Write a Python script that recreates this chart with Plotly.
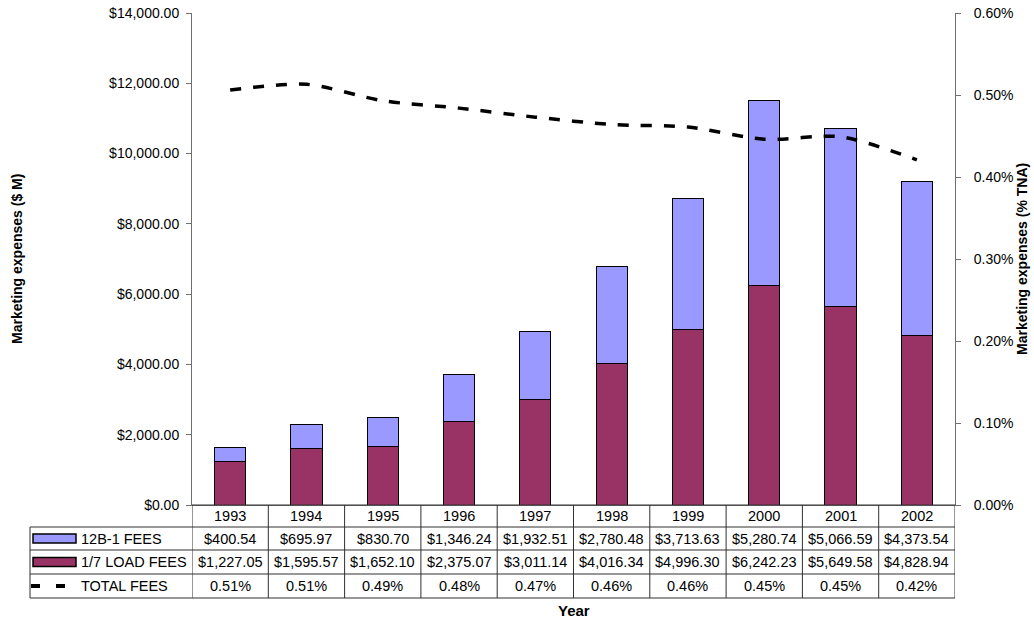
import plotly.graph_objects as go

# Mutual fund marketing expenses, 1993-2002
years = ["1993", "1994", "1995", "1996", "1997", "1998", "1999", "2000", "2001", "2002"]
fees_12b1 = [400.54, 695.97, 830.70, 1346.24, 1932.51, 2780.48, 3713.63, 5280.74, 5066.59, 4373.54]
load_fees = [1227.05, 1595.57, 1652.10, 2375.07, 3011.14, 4016.34, 4996.30, 6242.23, 5649.58, 4828.94]
total_pct = [0.00506, 0.00513, 0.00493, 0.00484, 0.00473, 0.00464, 0.00461, 0.00446, 0.00449, 0.00421]

row_names = ["12B-1 FEES", "1/7 LOAD FEES", "TOTAL FEES"]

BLUE = "#9999FF"
MAROON = "#993366"
FONT = "Liberation Sans, Arial, sans-serif"

# plot-area geometry in pixels
W, H = 1034, 621
L, R, T, B = 192, 955, 13, 505
PW, PH = R - L, B - T


def px(x):
    return (x - L) / PW


def py(y):
    return (B - y) / PH


fig = go.Figure()

fig.add_trace(go.Bar(
    x=years, y=load_fees, name=row_names[1],
    marker=dict(color=MAROON, line=dict(color="black", width=1)),
))
fig.add_trace(go.Bar(
    x=years, y=fees_12b1, name=row_names[0],
    marker=dict(color=BLUE, line=dict(color="black", width=1)),
))
fig.add_trace(go.Scatter(
    x=years, y=total_pct, name=row_names[2], yaxis="y2", mode="lines",
    line=dict(color="black", width=3.5, dash="11px,12px", shape="spline", smoothing=0.8),
))

shapes = []
annotations = []

# table rows (pixel y bounds)
row_y = [505, 527, 550, 574, 598]
x_left = 30
line_col = "#303030"

# horizontal grid lines of the data table
for i, yy in enumerate(row_y):
    x0 = L if i == 0 else x_left
    shapes.append(dict(type="line", xref="paper", yref="paper",
                       x0=px(x0), x1=1, y0=py(yy), y1=py(yy),
                       line=dict(color=line_col, width=1)))

# vertical separators at category boundaries
for k in range(len(years) + 1):
    shapes.append(dict(type="line", xref="x", yref="paper",
                       x0=k - 0.5, x1=k - 0.5, y0=py(row_y[0]), y1=py(row_y[-1]),
                       line=dict(color=line_col, width=1)))
shapes.append(dict(type="line", xref="paper", yref="paper",
                   x0=px(x_left), x1=px(x_left), y0=py(row_y[1]), y1=py(row_y[-1]),
                   line=dict(color=line_col, width=1)))

# legend keys inside the table
def mid(i):
    return (row_y[i] + row_y[i + 1]) / 2

for i, col in [(1, BLUE), (2, MAROON)]:
    shapes.append(dict(type="rect", xref="paper", yref="paper",
                       x0=px(33), x1=px(76), y0=py(mid(i) - 4.5), y1=py(mid(i) + 4.5),
                       fillcolor=col, line=dict(color="black", width=1.5)))
shapes.append(dict(type="line", xref="paper", yref="paper",
                   x0=px(31), x1=px(66), y0=py(mid(3)), y1=py(mid(3)),
                   line=dict(color="black", width=4, dash="9px,16px")))

label_font = dict(family=FONT, size=14.5, color="black")
cell_font = dict(family=FONT, size=14.5, color="black")

for i, name in enumerate(row_names):
    annotations.append(dict(xref="paper", yref="paper", x=px(79), y=py(mid(i + 1)),
                            text=name, showarrow=False, xanchor="left", yanchor="middle",
                            font=label_font))

rows = [
    years,
    [f"${v:,.2f}" for v in fees_12b1],
    [f"${v:,.2f}" for v in load_fees],
    [f"{v * 100:.2f}%" for v in total_pct],
]
for r, vals in enumerate(rows):
    for k, txt in enumerate(vals):
        annotations.append(dict(xref="x", yref="paper", x=k, y=py(mid(r)),
                                text=txt, showarrow=False, xanchor="center", yanchor="middle",
                                font=cell_font))

title_font = dict(family=FONT, size=14, color="black")
annotations.append(dict(xref="paper", yref="paper", x=px(574), y=py(610), text="<b>Year</b>",
                        showarrow=False, xanchor="center", yanchor="middle",
                        font=dict(family=FONT, size=15, color="black")))
annotations.append(dict(xref="paper", yref="paper", x=px(17), y=py(259),
                        text="<b>Marketing expenses ($ M)</b>", textangle=-90,
                        showarrow=False, xanchor="center", yanchor="middle", font=title_font))
annotations.append(dict(xref="paper", yref="paper", x=px(1022), y=py(259),
                        text="<b>Marketing expenses (% TNA)</b>", textangle=-90,
                        showarrow=False, xanchor="center", yanchor="middle", font=title_font))

axis_col = "#707070"
tick_font = dict(family=FONT, size=14, color="black")

fig.update_layout(
    width=W, height=H,
    margin=dict(l=L, r=W - R, t=T, b=H - B, autoexpand=False),
    paper_bgcolor="white", plot_bgcolor="white",
    barmode="stack", bargap=0.59,
    showlegend=False,
    shapes=shapes, annotations=annotations,
    xaxis=dict(type="category", range=[-0.5, 9.5], showticklabels=False, ticks="",
               showgrid=False, zeroline=False, showline=True, linecolor=axis_col, linewidth=1),
    yaxis=dict(range=[0, 14000], dtick=2000, tickformat="$,.2f", showgrid=False, zeroline=False,
               showline=True, linecolor=axis_col, linewidth=1, ticks="outside", ticklen=5,
               tickcolor=axis_col, tickfont=tick_font, ticklabelstandoff=4),
    yaxis2=dict(range=[0, 0.006], dtick=0.001, tickformat=".2%", overlaying="y", side="right",
                showgrid=False, zeroline=False, showline=True, linecolor=axis_col, linewidth=1,
                ticks="outside", ticklen=5, tickcolor=axis_col, tickfont=tick_font,
                ticklabelstandoff=10),
)

fig.write_html("out.html")
